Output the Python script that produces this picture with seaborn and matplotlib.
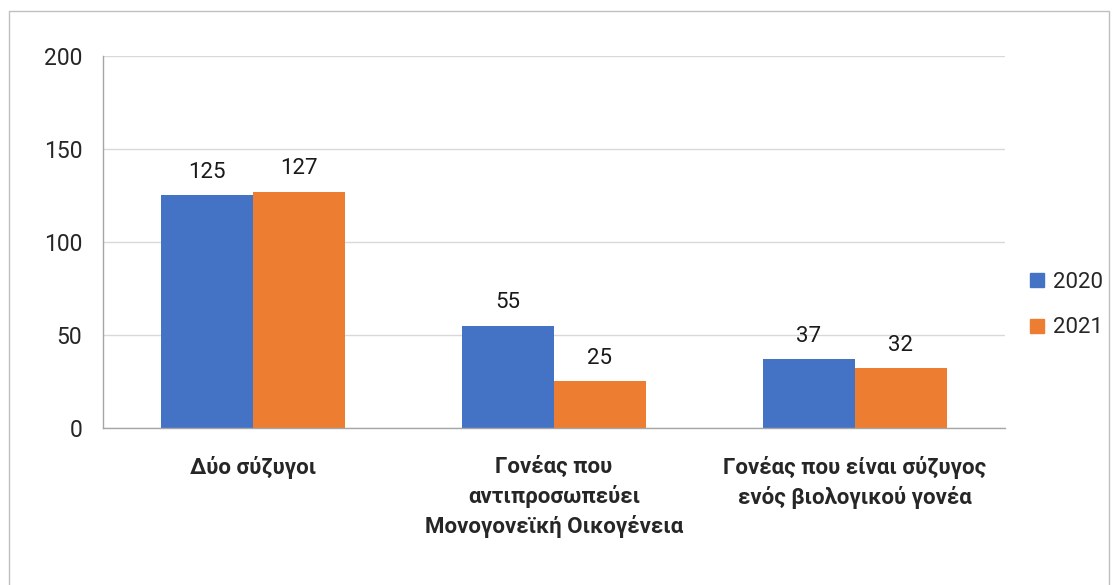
import pandas as pd
import numpy as np
import matplotlib.pyplot as plt
import seaborn as sns
from matplotlib.lines import Line2D
from matplotlib.ticker import FixedLocator

# Data
categories = ['Δύο σύζυγοι',
              'Γονέας που\nαντιπροσωπεύει\nΜονογονεϊκή Οικογένεια',
              'Γονέας που είναι σύζυγος\nενός βιολογικού γονέα']
years = ['2020', '2021']
values_2020 = [125, 55, 37]
values_2021 = [127, 25, 32]

df = pd.DataFrame({
    'category': categories * 2,
    'year': [years[0]] * 3 + [years[1]] * 3,
    'value': values_2020 + values_2021,
})

sns.set_style('white')
plt.rcParams['font.family'] = ['Roboto', 'DejaVu Sans']

fig = plt.figure(figsize=(11.16, 5.85), dpi=100)
ax = fig.add_axes([0.0923, 0.2684, 0.8082, 0.6359])

palette = {'2020': '#4472C4', '2021': '#ED7D31'}
sns.barplot(data=df, x='category', y='value', hue='year', palette=palette,
            width=0.612, gap=0, saturation=1, linewidth=0, ax=ax, legend=True)

# Data labels
for cont in ax.containers:
    ax.bar_label(cont, fmt='%.0f', padding=9, fontsize=16, color='#1a1a1a')

ax.set_ylim(0, 200)
ax.set_yticks([0, 50, 100, 150, 200])
ax.set_xlim(-0.5, 2.5)
ax.yaxis.grid(True, color='#d9d9d9', linewidth=1)
ax.set_axisbelow(True)
ax.set_xlabel('')
ax.set_ylabel('')

for s in ['top', 'right']:
    ax.spines[s].set_visible(False)
for s in ['left', 'bottom']:
    ax.spines[s].set_color('#a6a6a6')
    ax.spines[s].set_linewidth(1)

ax.tick_params(axis='y', labelsize=16.5, length=7, color='#a6a6a6', pad=8,
               labelcolor='#262626')
ax.tick_params(axis='x', which='major', length=0, pad=20, labelsize=16)
ax.xaxis.set_minor_locator(FixedLocator([-0.5, 0.5, 1.5, 2.5]))
ax.tick_params(axis='x', which='minor', length=7, color='#a6a6a6')
for lab in ax.get_xticklabels():
    lab.set_fontweight('bold')
    lab.set_linespacing(1.4)
    lab.set_verticalalignment('top')

# Legend outside right
handles = [Line2D([0], [0], marker='s', linestyle='', markersize=10,
                  markerfacecolor=palette[y], markeredgecolor=palette[y])
           for y in years]
ax.legend(handles, years, loc='center left', bbox_to_anchor=(1.013, 0.33),
          frameon=False, fontsize=16, handletextpad=0.35, labelspacing=1.1,
          handlelength=0.8, borderpad=0.2, borderaxespad=0.3)

# Outer border
border = plt.Rectangle((9 / 1116, -0.01), (1109 - 9) / 1116, 1 - 11 / 585 + 0.01,
                       transform=fig.transFigure, fill=False,
                       edgecolor='#bfbfbf', linewidth=1)
fig.patches.append(border)

fig.savefig('out.png', dpi=100, facecolor='white')
